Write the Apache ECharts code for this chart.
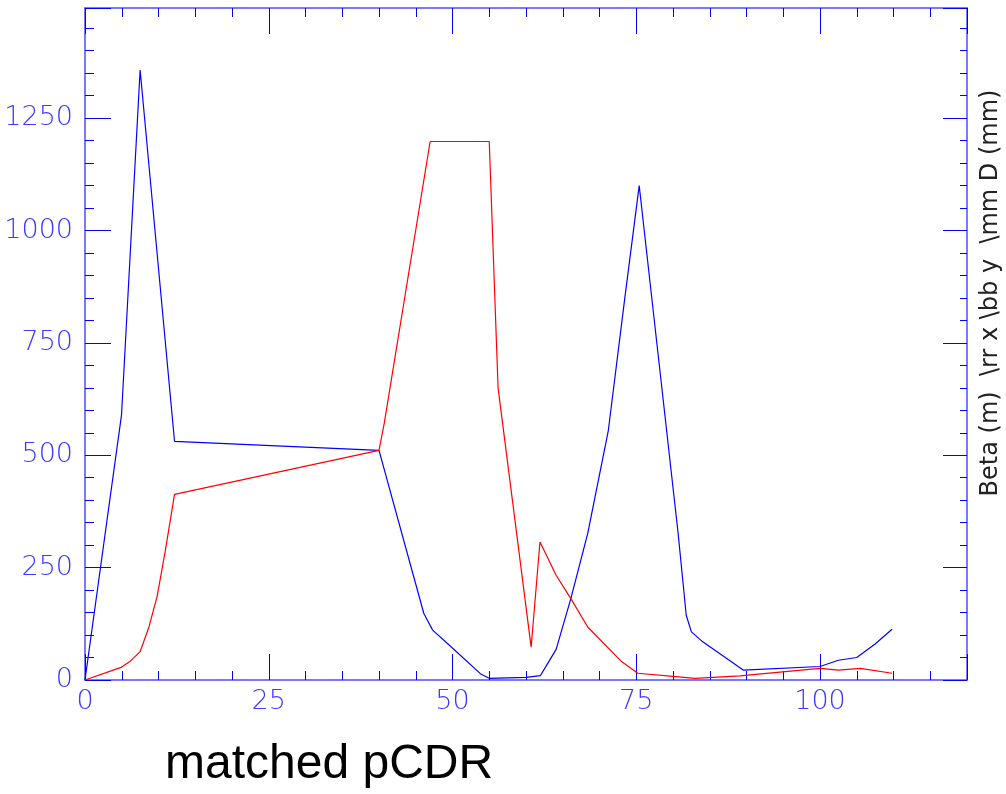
<!DOCTYPE html>
<html>
<head>
<meta charset="utf-8">
<script src="https://cdn.jsdelivr.net/npm/echarts@6/dist/echarts.min.js"></script>
<style>html,body{margin:0;padding:0;background:#fff;}#c{width:1006px;height:794px;}</style>
</head>
<body>
<div id="c"></div>
<script>
// ---- data ----
var blueX = [0, 4.97, 7.5, 12.18, 40.0, 46.1, 47.3, 49.8, 53.9, 55.0, 60.0, 61.95, 62.96, 64.1, 66.1, 68.4, 71.2, 73.4, 75.4, 80.7, 81.8, 82.5, 83.9, 89.55, 100, 102.5, 105.0, 107.5, 109.8];
var blueY = [0, 590, 1357, 531, 511, 148, 111, 74, 12.6, 3.7, 6, 9.6, 37, 68, 181, 326, 555, 844, 1100, 326, 144, 107, 87, 22, 30, 44, 50, 80, 113];
var redX = [0, 4.9, 6.1, 7.5, 8.7, 9.8, 10.9, 12.18, 40.0, 40.7, 46.96, 55.0, 56.2, 60.7, 61.9, 64.1, 66.1, 68.4, 73.0, 75.2, 80, 83.0, 89.1, 100, 102.5, 105.5, 109.8];
var redY = [0, 28, 41, 63, 118, 185, 285, 413, 511, 570, 1198, 1198, 650, 73, 307, 233, 181, 118, 41, 15, 8, 3.7, 9, 26, 22, 26, 15];
var xTicks = [0, 25, 50, 75, 100];
var yTicks = [0, 250, 500, 750, 1000, 1250];
var yTitle = 'Beta (m)  \\rr x \\bb y  \\mm D (mm)';
var chartTitle = 'matched pCDR';

function pairs(xs, ys) { return xs.map(function (x, i) { return [x, ys[i]]; }); }

var AX = '#4d4dff', TK = '#0000ff', LB = '#3a3aff';
var X_MIN = 0, X_MAX = 120, Y_MIN = 0, Y_MAX = 1495;
var labelFont = { color: LB, fontSize: 27, fontFamily: 'DejaVu Sans', fontWeight: 200 };

function xAxisDef(pos, major, showLabel) {
  return {
    type: 'value', position: pos, min: X_MIN, max: X_MAX, interval: major ? 25 : 5,
    axisLine: { show: major, onZero: false, lineStyle: { color: AX, width: 1.5 } },
    axisTick: { show: true, inside: true, length: major ? 26 : 9, lineStyle: { color: TK, width: 1 } },
    axisLabel: showLabel ? Object.assign({ show: true, margin: 8, formatter: function (v) { return xTicks.indexOf(v) >= 0 ? String(v) : ''; } }, labelFont) : { show: false },
    splitLine: { show: false }
  };
}
function yAxisDef(pos, major, showLabel) {
  return {
    type: 'value', position: pos, min: Y_MIN, max: Y_MAX, interval: major ? 250 : 50,
    axisLine: { show: major, onZero: false, lineStyle: { color: AX, width: 1.5 } },
    axisTick: { show: true, inside: true, length: major ? (pos === 'left' ? 26 : 24) : (pos === 'left' ? 9 : 7), lineStyle: { color: TK, width: 1 } },
    axisLabel: showLabel ? Object.assign({ show: true, margin: 12, formatter: function (v) { return yTicks.indexOf(v) >= 0 ? String(v) : ''; } }, labelFont) : { show: false },
    splitLine: { show: false }
  };
}

var chart = echarts.init(document.getElementById('c'), null, { renderer: 'canvas' });
chart.setOption({
  animation: false,
  backgroundColor: '#ffffff',
  grid: { left: 85, right: 39, top: 8, bottom: 114, containLabel: false },
  xAxis: [xAxisDef('bottom', true, true), xAxisDef('bottom', false, false), xAxisDef('top', true, false), xAxisDef('top', false, false)],
  yAxis: [yAxisDef('left', true, true), yAxisDef('left', false, false), yAxisDef('right', true, false), yAxisDef('right', false, false)],
  series: [
    { type: 'line', xAxisIndex: 0, yAxisIndex: 0, data: pairs(blueX, blueY), showSymbol: false, symbol: 'none', lineStyle: { color: '#0000ff', width: 1.2 }, itemStyle: { color: '#0000ff' } },
    { type: 'line', xAxisIndex: 0, yAxisIndex: 0, data: pairs(redX, redY), showSymbol: false, symbol: 'none', lineStyle: { color: '#ff0000', width: 1.2 }, itemStyle: { color: '#ff0000' } }
  ],
  graphic: [
    { type: 'text', x: 991, y: 293, rotation: Math.PI / 2,
      style: { text: yTitle, fill: '#222', font: '24px "DejaVu Sans"', align: 'center', verticalAlign: 'middle' } },
    { type: 'text', left: 165, top: 741,
      style: { text: chartTitle, fill: '#000', font: '48px "Liberation Sans"' } }
  ]
});
</script>
</body>
</html>
